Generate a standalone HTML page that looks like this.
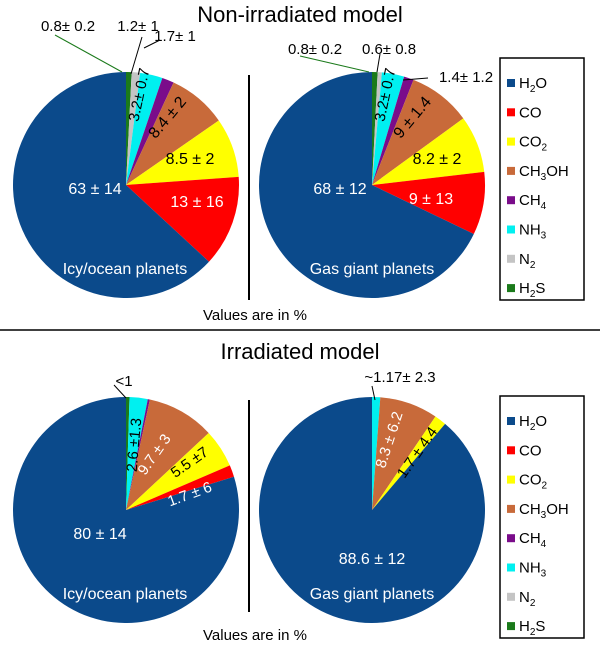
<!DOCTYPE html>
<html><head><meta charset="utf-8"><style>
body{margin:0;background:#fff;}
svg text{font-family:"Liberation Sans",sans-serif;}
</style></head><body>
<svg id="c" width="600" height="652" xmlns="http://www.w3.org/2000/svg">
<text x="300" y="22" font-size="22" text-anchor="middle">Non-irradiated model</text>
<text x="300" y="359" font-size="22" text-anchor="middle">Irradiated model</text>
<line x1="0" y1="330" x2="600" y2="330" stroke="#000" stroke-width="1.5"/>
<line x1="249" y1="75" x2="249" y2="300" stroke="#000" stroke-width="2"/>
<line x1="249" y1="400" x2="249" y2="612" stroke="#000" stroke-width="2"/>
<text x="255" y="320" font-size="15" text-anchor="middle">Values are in %</text>
<text x="255" y="640" font-size="15" text-anchor="middle">Values are in %</text>
<g id="marks"></g>
</svg>
<script>
const species = ["H2S","N2","NH3","CH4","CH3OH","CO2","CO","H2O"];
const colors = ["#1b7a1b","#c4c4c4","#00f0f0","#7a0c8a","#c86a3a","#ffff00","#ff0000","#0b4a8b"];
const icyNonIrr = [0.8,1.2,3.2,1.7,8.4,8.5,13,63];
const gasNonIrr = [0.8,0.6,3.2,1.4,9,8.2,9,68];
const icyIrr = [0.5,0,2.6,0.3,9.7,5.5,1.7,80];
const gasIrr = [0,0,1.17,0,8.3,1.7,0,88.6];
const pies = [
 {name:"icy-non-irradiated",data:icyNonIrr,cx:126,cy:185},
 {name:"gas-non-irradiated",data:gasNonIrr,cx:372,cy:185},
 {name:"icy-irradiated",data:icyIrr,cx:126,cy:510},
 {name:"gas-irradiated",data:gasIrr,cx:372,cy:510}];
const R=113;
const NS="http://www.w3.org/2000/svg";
const g=document.getElementById('marks');
function mk(t,a){const e=document.createElementNS(NS,t);for(const k in a)e.setAttribute(k,a[k]);g.appendChild(e);return e;}
pies.forEach(p=>{
 const tot=p.data.reduce((a,b)=>a+b,0);
 let a0=0;
 p.data.forEach((v,i)=>{
  if(v<=0)return;
  const a1=a0+v/tot*2*Math.PI;
  const x0=p.cx+R*Math.sin(a0),y0=p.cy-R*Math.cos(a0);
  const x1=p.cx+R*Math.sin(a1),y1=p.cy-R*Math.cos(a1);
  const large=(a1-a0)>Math.PI?1:0;
  const e=mk('path',{d:`M${p.cx},${p.cy}L${x0},${y0}A${R},${R} 0 ${large} 1 ${x1},${y1}Z`,fill:colors[i]});
  
  
  a0=a1;
 });
});
// labels: [text,x,y,rotation,color,size]
const labels=[
 ["63 ± 14",95,190,0,"#fff",16],["13 ± 16",197,203,0,"#fff",16],["8.5 ± 2",190,160,0,"#000",16],
 ["8.4 ± 2",168,118,-50,"#000",16],["3.2± 0.7",140,95,-78,"#000",15],
 ["1.7± 1",175,37,0,"#000",15],["1.2± 1",138,27,0,"#000",15],["0.8± 0.2",68,27,0,"#000",15],
 ["Icy/ocean planets",125,270,0,"#fff",16],
 ["68 ± 12",340,190,0,"#fff",16],["9 ± 13",431,200,0,"#fff",16],["8.2 ± 2",437,160,0,"#000",16],
 ["9 ± 1.4",413,118,-50,"#000",16],["3.2± 0.7",386,95,-78,"#000",15],
 ["1.4± 1.2",466,78,0,"#000",15],["0.6± 0.8",389,50,0,"#000",15],["0.8± 0.2",315,50,0,"#000",15],
 ["Gas giant planets",372,270,0,"#fff",16],
 ["80 ± 14",100,535,0,"#fff",16],["1.7 ± 6",190,495,-20,"#fff",15],["5.5 ±7",190,463,-35,"#000",15],
 ["9.7 ± 3",155,455,-55,"#fff",15],["2.6 ±1.3",135,445,-85,"#000",15],["<1",124,382,0,"#000",15],
 ["Icy/ocean planets",125,595,0,"#fff",16],
 ["88.6 ± 12",372,560,0,"#fff",16],["~1.17± 2.3",400,378,0,"#000",15],
 ["8.3 ± 6.2",390,440,-72,"#fff",15],["1.7 ± 4.4",418,453,-55,"#000",15],
 ["Gas giant planets",372,595,0,"#fff",16]];
labels.forEach(l=>{
 const t=mk('text',{x:l[1],y:l[2],fill:l[4],'font-size':l[5],'text-anchor':'middle','dominant-baseline':'middle',transform:`rotate(${l[3]} ${l[1]} ${l[2]})`});
 t.textContent=l[0];
 
 
});
// leader lines
[[55,35,122,72,"#1b7a1b"],[142,37,131,74,"#000"],[160,40,144,48,"#000"],
 [300,56,369,72,"#1b7a1b"],[380,54,377,72,"#000"],[428,78,403,80,"#000"],
 [114,385,126,398,"#000"],[372,386,375,400,"#000"]].forEach(s=>{
 const ln=mk('line',{x1:s[0],y1:s[1],x2:s[2],y2:s[3],stroke:s[4],'stroke-width':1});
 
 
});
// legends
const legendNames=[["H","2","O"],["CO","",""],["CO","2",""],["CH","3","OH"],["CH","4",""],["NH","3",""],["N","2",""],["H","2","S"]];
const legendColors=["#0b4a8b","#ff0000","#ffff00","#c86a3a","#7a0c8a","#00f0f0","#c4c4c4","#1b7a1b"];
[58,396].forEach((y0,k)=>{
 const b=mk('rect',{x:500,y:y0,width:84,height:242,fill:'none',stroke:'#000','stroke-width':1.5});
 
 
 legendNames.forEach((n,i)=>{
  const y=y0+25+i*29.3;
  const r=mk('rect',{x:507,y:y-4,width:8,height:8,fill:legendColors[i]});
  
  
  const t=mk('text',{x:519,y:y+5,'font-size':15});
  t.innerHTML=n[0]+(n[1]?`<tspan font-size="10" dy="4">${n[1]}</tspan><tspan dy="-4">${n[2]}</tspan>`:'');
  
  
 });
});
</script>
</body></html>
